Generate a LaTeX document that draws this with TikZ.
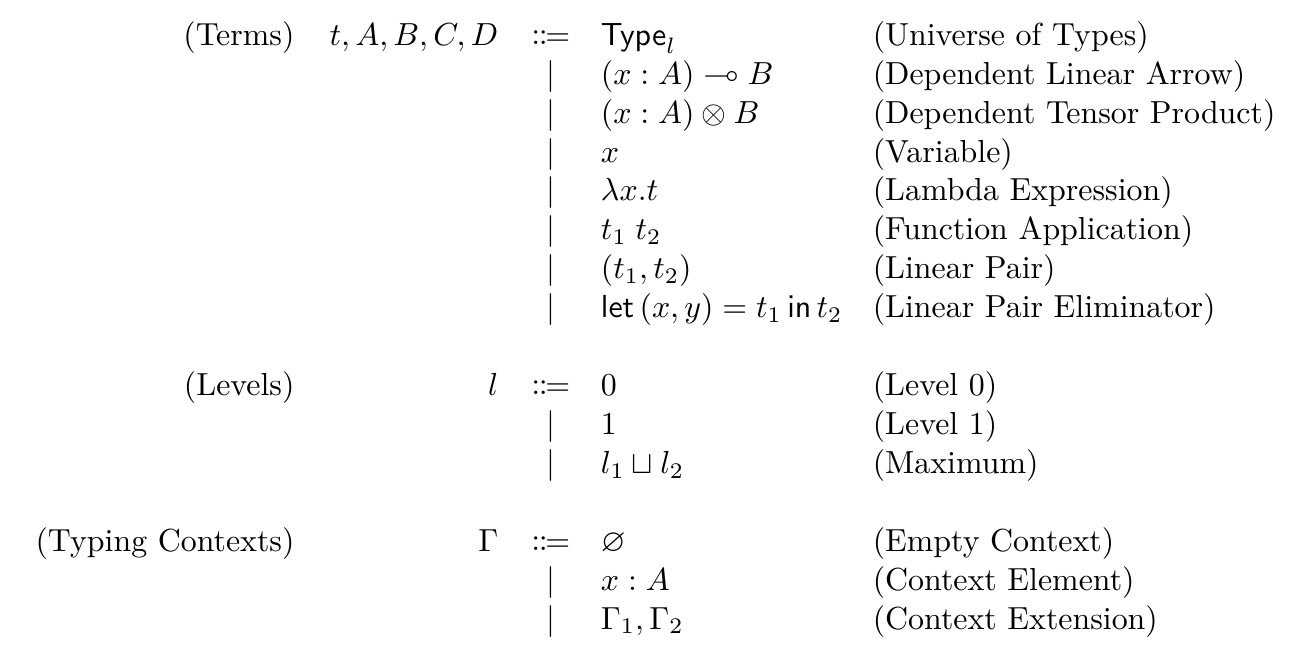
\documentclass[tikz,border=0pt]{standalone}
\usepackage{amssymb}
\usepackage{amsmath}
\usepackage{mathtools}
\usepackage{tikz}
\usetikzlibrary{positioning}
\tikzset{
    cat/.style = {anchor=base east, inner sep=0pt},
    meta/.style = {anchor=base east, inner sep=0pt},
    sep/.style = {anchor=base, inner sep=0pt},
    alt/.style = {anchor=base west, inner sep=0pt},
    note/.style = {anchor=base west, inner sep=0pt}
}

\begin{document}
\begin{tikzpicture}
  [x=1pt,y=-1pt]

  \useasboundingbox (0,0) rectangle (404.4,203.4);

  % terms
  \node[cat] (terms) at (92.5,14.2) {(Terms)};
  \node[meta] (mterms) at (156.4,14.2) {$t, A, B, C, D$};
  \node[sep] (s1) at (172.7,14.2) {$\Coloneqq$};
  \node[alt] (a1) at (188.2,14.2) {$\mathsf{Type}_l$};
  \node[note] (d1) at (273.4,14.2) {(Universe of Types)};
  \node[sep] (s2) at (172.7,26.4) {$|$};
  \node[alt] (a2) at (188.2,26.4) {$(x : A) \multimap B$};
  \node[note] (d2) at (273.4,26.4) {(Dependent Linear Arrow)};
  \node[sep] (s3) at (172.7,38.6) {$|$};
  \node[alt] (a3) at (188.2,38.6) {$(x : A) \otimes B$};
  \node[note] (d3) at (273.4,38.6) {(Dependent Tensor Product)};
  \node[sep] (s4) at (172.7,50.8) {$|$};
  \node[alt] (a4) at (188.2,50.8) {$x$};
  \node[note] (d4) at (273.4,50.8) {(Variable)};
  \node[sep] (s5) at (172.7,63.0) {$|$};
  \node[alt] (a5) at (188.2,63.0) {$\lambda x.t$};
  \node[note] (d5) at (273.4,63.0) {(Lambda Expression)};
  \node[sep] (s6) at (172.7,75.2) {$|$};
  \node[alt] (a6) at (188.2,75.2) {$t_1\;t_2$};
  \node[note] (d6) at (273.4,75.2) {(Function Application)};
  \node[sep] (s7) at (172.7,87.4) {$|$};
  \node[alt] (a7) at (188.2,87.4) {$(t_1, t_2)$};
  \node[note] (d7) at (273.4,87.4) {(Linear Pair)};
  \node[sep] (s8) at (172.7,99.6) {$|$};
  \node[alt] (a8) at (188.2,99.6) {$\mathsf{let}\,(x, y) = t_1 \,\mathsf{in}\, t_2$};
  \node[note] (d8) at (273.4,99.6) {(Linear Pair Eliminator)};

  % levels
  \node[cat] (levels) at (92.5,124.0) {(Levels)};
  \node[meta] (mlevels) at (156.4,124.0) {$l$};
  \node[sep] (s9) at (172.7,124.0) {$\Coloneqq$};
  \node[alt] (a9) at (188.2,124.0) {$0$};
  \node[note] (d9) at (273.4,124.0) {(Level 0)};
  \node[sep] (s10) at (172.7,136.2) {$|$};
  \node[alt] (a10) at (188.2,136.2) {$1$};
  \node[note] (d10) at (273.4,136.2) {(Level 1)};
  \node[sep] (s11) at (172.7,148.4) {$|$};
  \node[alt] (a11) at (188.2,148.4) {$l_1 \sqcup l_2$};
  \node[note] (d11) at (273.4,148.4) {(Maximum)};

  % typing contexts
  \node[cat] (ctx) at (92.5,172.8) {(Typing Contexts)};
  \node[meta] (mctx) at (156.4,172.8) {$\Gamma$};
  \node[sep] (s12) at (172.7,172.8) {$\Coloneqq$};
  \node[alt] (a12) at (188.2,172.8) {$\varnothing$};
  \node[note] (d12) at (273.4,172.8) {(Empty Context)};
  \node[sep] (s13) at (172.7,185.0) {$|$};
  \node[alt] (a13) at (188.2,185.0) {$x : A$};
  \node[note] (d13) at (273.4,185.0) {(Context Element)};
  \node[sep] (s14) at (172.7,197.2) {$|$};
  \node[alt] (a14) at (188.2,197.2) {$\Gamma_1, \Gamma_2$};
  \node[note] (d14) at (273.4,197.2) {(Context Extension)};
\end{tikzpicture}
\end{document}
